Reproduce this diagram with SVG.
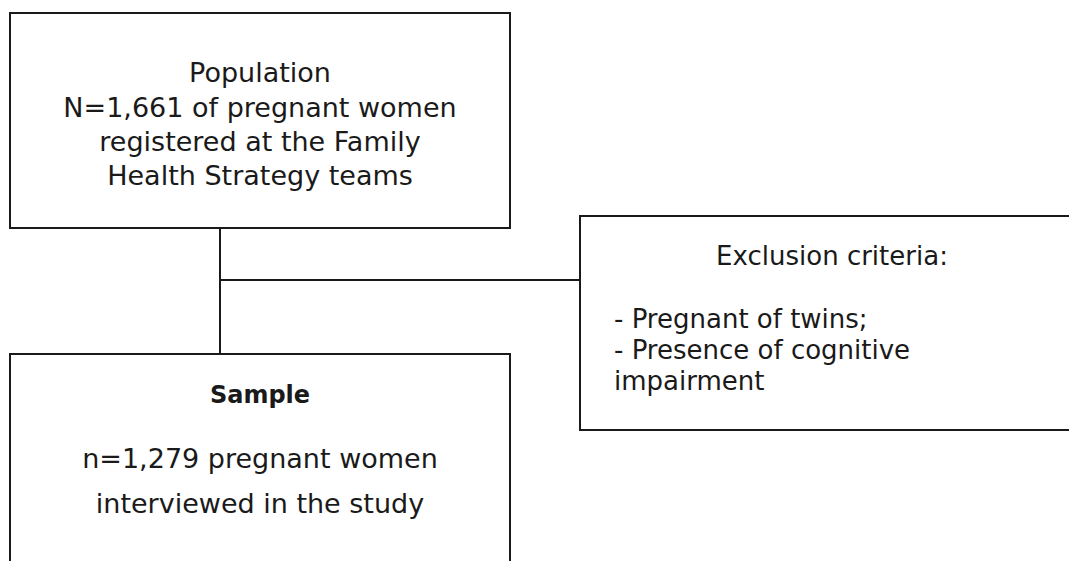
<svg xmlns="http://www.w3.org/2000/svg" width="1069" height="561" viewBox="0 0 1069 561">
<style>
.box{fill:#fff;stroke:#1a1a1a;stroke-width:2}
.ln{fill:none;stroke:#1a1a1a;stroke-width:2}
text{font-family:"DejaVu Sans","Open Sans",sans-serif;font-size:27px;fill:#1a1a1a}
.s{font-size:26px}
.c{text-anchor:middle}
.b{font-weight:bold;font-size:24px}
</style>
<rect width="1069" height="561" fill="#fff"/>
<g id="connectors">
<path class="ln" d="M220 228V354M220 280H580"/>
</g>
<g id="population">
<rect class="box" x="10" y="13" width="500" height="215"/>
<text class="c" x="260" y="82">Population</text>
<text class="c" x="260" y="117">N=1,661 of pregnant women</text>
<text class="c" x="260" y="151">registered at the Family</text>
<text class="c" x="260" y="185">Health Strategy teams</text>
</g>
<g id="exclusion">
<rect class="box" x="580" y="216" width="500" height="214"/>
<text class="c s" x="832" y="265">Exclusion criteria:</text>
<text class="s" x="614" y="328">- Pregnant of twins;</text>
<text class="s" x="614" y="359">- Presence of cognitive</text>
<text class="s" x="614" y="390">impairment</text>
</g>
<g id="sample">
<rect class="box" x="10" y="354" width="500" height="220"/>
<text class="c b" x="260" y="403">Sample</text>
<text class="c" x="260" y="468">n=1,279 pregnant women</text>
<text class="c" x="260" y="513">interviewed in the study</text>
</g>
</svg>
